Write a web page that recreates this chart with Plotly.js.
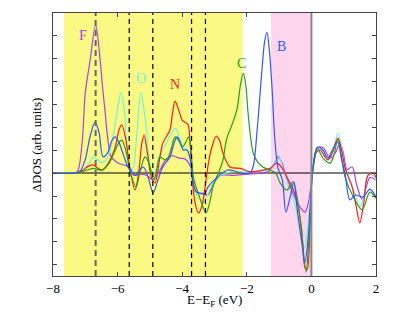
<!DOCTYPE html>
<html><head><meta charset="utf-8">
<script src="https://cdn.plot.ly/plotly-3.0.1.min.js"></script>
<style>html,body{margin:0;padding:0;background:#fff}#chart{width:415px;height:312px}</style>
</head><body><div id="chart"></div>
<script>
// ---- data (E - E_F in eV, ΔDOS arb. units) ----
const xF = [-8,-7.4,-7.25,-7.1,-7.0,-6.85,-6.68,-6.54,-6.45,-6.39,-6.3,-6.2,-6.0,-5.7,-5.6,-5.5,-5.3,-5.1,-4.9,-4.7,-4.5,-4.3,-4.1,-3.9,-3.75,-3.6,-3.4,-3.2,-3.0,-2.8,-2.4,-2.0,-1.6,-1.3,-1.15,-1.03,-0.9,-0.8,-0.66,-0.5,-0.35,-0.2,-0.08,0.03,0.12,0.2,0.36,0.58,0.75,0.89,1.0,1.1,1.26,1.4,1.57,1.7,1.81,2.0];
const yF = [0,0,0.05,1.3,3.5,4.9,6.43,4.9,3.5,2.7,1.43,0.7,0.45,0.3,0.2,-0.1,-0.05,-0.1,-0.3,0.1,0.6,0.75,0.65,0.6,0.3,-0.8,-0.9,-0.95,-0.4,-0.1,-0.1,-0.05,-0.02,0.1,0.4,0.7,0.4,-0.1,-0.6,-1.1,-1.48,-1.7,-1.2,0,0.8,1.1,1.1,0.65,0.9,1.3,0.8,0.15,0.26,-0.5,-1.15,-0.6,-0.2,-0.3];

const xO = [-8,-7.3,-7.1,-6.9,-6.75,-6.6,-6.48,-6.3,-6.15,-6.0,-5.9,-5.8,-5.7,-5.6,-5.5,-5.4,-5.28,-5.15,-5.05,-4.95,-4.85,-4.7,-4.5,-4.35,-4.22,-4.1,-3.97,-3.85,-3.75,-3.65,-3.5,-3.35,-3.2,-3.0,-2.8,-2.5,-2.1,-1.7,-1.3,-1.15,-1.03,-0.9,-0.75,-0.55,-0.4,-0.23,-0.1,0.03,0.12,0.2,0.35,0.5,0.65,0.82,0.95,1.04,1.2,1.35,1.5,1.65,1.75,1.9,2.0];
const yO = [0,0,0.1,0.4,0.7,0.55,0.43,0.7,1.5,2.8,3.5,2.8,1.0,-0.05,0.3,1.8,3.5,2.4,0.9,0.1,0.0,0.8,1.3,1.7,1.95,1.6,1.1,1.0,0.5,-0.7,-1.0,-1.3,-0.9,-0.3,-0.1,0.05,0.05,0.05,0.15,0.45,0.78,0.3,-0.4,-1.2,-2.0,-3.3,-2.2,0,0.9,1.1,1.0,0.7,0.9,1.74,1.0,0.26,-0.3,-0.9,-1.48,-0.8,-0.1,-0.1,-0.3];

const xN = [-8,-7.3,-7.1,-6.9,-6.76,-6.6,-6.48,-6.3,-6.1,-5.95,-5.87,-5.75,-5.62,-5.46,-5.35,-5.25,-5.18,-5.08,-4.95,-4.84,-4.7,-4.6,-4.38,-4.3,-4.22,-4.1,-4.0,-3.91,-3.82,-3.75,-3.7,-3.6,-3.5,-3.4,-3.29,-3.18,-3.08,-2.95,-2.84,-2.74,-2.52,-2.2,-1.9,-1.6,-1.28,-1.07,-0.9,-0.76,-0.6,-0.45,-0.3,-0.2,-0.13,-0.05,0.03,0.14,0.27,0.4,0.51,0.65,0.82,0.93,1.04,1.15,1.26,1.38,1.5,1.62,1.75,1.91,2.0];
const yN = [0,0,0.1,0.3,0.35,0.2,0.13,0.4,1.0,1.9,2.1,1.5,0.2,-0.74,0.0,1.3,1.65,0.9,-0.2,-0.43,0.6,1.3,1.87,2.6,3.13,2.7,2.3,2.2,2.1,1.2,0,-1.3,-1.74,-1.5,-0.6,0.5,1.13,1.6,1.4,0.87,0.26,0.2,0.05,0.1,0.2,0.43,0.2,-0.17,-0.6,-1.17,-2.5,-4.1,-4.2,-2.5,0,0.87,1.0,0.75,0.57,0.9,1.52,1.0,0.26,-0.2,-0.6,-1.4,-2.17,-1.3,-0.1,0,-0.2];

const xC = [-8,-7.3,-7.1,-6.9,-6.76,-6.6,-6.48,-6.3,-6.1,-5.95,-5.87,-5.75,-5.6,-5.43,-5.3,-5.15,-5.05,-4.95,-4.88,-4.78,-4.69,-4.57,-4.47,-4.35,-4.22,-4.1,-4.0,-3.9,-3.8,-3.73,-3.65,-3.5,-3.35,-3.26,-3.15,-3.05,-2.93,-2.75,-2.62,-2.43,-2.3,-2.2,-2.11,-2.03,-1.95,-1.8,-1.65,-1.5,-1.25,-1.1,-0.97,-0.76,-0.57,-0.45,-0.3,-0.17,-0.08,0.03,0.1,0.17,0.36,0.58,0.7,0.82,0.93,1.04,1.3,1.57,1.81,2.0];
const yC = [0,0,0.05,0.15,0.2,0.15,0.13,0.35,0.9,1.35,1.43,1.0,0.0,-0.6,0.1,0.7,0.5,0.0,-0.3,0.2,0.7,0.6,0.57,1.0,1.57,1.4,1.13,1.3,1.57,1.0,-0.2,-0.9,-1.5,-1.74,-1.3,-0.6,-0.17,0.5,1.5,2.2,2.8,3.8,4.33,3.8,2.45,0.87,0.45,0.26,0.1,0.0,-0.43,-0.74,-0.39,-1.0,-2.6,-4.3,-3.0,0,0.6,1.1,0.65,0.43,0.8,1.48,0.7,-0.17,-1.04,-1.6,-0.83,-1.1];

const xB = [-8,-7.3,-7.15,-7.0,-6.85,-6.7,-6.58,-6.45,-6.3,-6.18,-6.08,-5.95,-5.8,-5.68,-5.55,-5.45,-5.3,-5.2,-5.05,-4.9,-4.75,-4.6,-4.38,-4.25,-4.16,-4.05,-3.97,-3.85,-3.75,-3.65,-3.55,-3.3,-3.2,-2.93,-2.6,-2.4,-2.2,-1.9,-1.8,-1.68,-1.53,-1.45,-1.375,-1.3,-1.22,-1.13,-1.03,-0.9,-0.79,-0.65,-0.54,-0.45,-0.3,-0.2,-0.1,0.03,0.12,0.2,0.35,0.51,0.65,0.82,0.93,1.04,1.19,1.35,1.6,1.81,2.0];
const yB = [0,0,0.1,0.6,1.6,2.2,1.8,0.7,0.9,1.4,1.57,1.3,0.7,0.26,0.0,-0.1,0.15,0.26,-0.2,-0.87,-0.3,0.26,0.7,1.3,1.57,1.3,1.0,1.0,0.6,-0.5,-0.83,-0.87,-0.6,-0.2,0.13,0.1,0.0,0.0,0.3,1.87,4.5,5.7,6.13,5.3,3.74,1.43,0.2,-0.3,-1.7,-1.0,-0.39,-1.48,-3.0,-3.9,-2.8,0,0.9,1.13,1.0,0.65,1.0,1.35,0.6,0,-1.17,-0.96,-1.04,-0.7,-1.04];

const labels = ['F','O','N','C','B'];
const labelX = [-7.06,-5.28,-4.22,-2.16,-0.94];
const labelY = [6.0,4.13,3.83,4.77,5.49];
const colors = ['#b13cf0','#6ff5e0','#ff1a1a','#2aa010','#3355ff'];
const xs = [xF,xO,xN,xC,xB];
const ys = [yF,yO,yN,yC,yB];

const yellowBand = [-7.66,-2.13];
const pinkBand = [-1.25,0];
const dashPos = [-6.68,-5.64,-4.91,-3.71,-3.28];
const xTicks = [-8,-6,-4,-2,0,2];

const font = 'Liberation Serif, Times New Roman, serif';
const traces = xs.map((x,i)=>({x:x,y:ys[i],type:'scatter',mode:'lines',
  line:{color:colors[i],width:1.2,shape:'spline',smoothing:0.9},hoverinfo:'skip'}));

const shapes = [
  {type:'rect',xref:'x',yref:'paper',x0:yellowBand[0],x1:yellowBand[1],y0:0,y1:1,fillcolor:'#f9f983',line:{width:0},layer:'below'},
  {type:'rect',xref:'x',yref:'paper',x0:pinkBand[0],x1:pinkBand[1],y0:0,y1:1,fillcolor:'#fdd6ee',line:{width:0},layer:'below'},
  {type:'line',xref:'paper',yref:'y',x0:0,x1:1,y0:0,y1:0,line:{color:'#000',width:1.2},layer:'below'},
  {type:'line',xref:'x',yref:'paper',x0:0,x1:0,y0:0,y1:1,line:{color:'#888',width:2},layer:'above'}
];
dashPos.forEach((d,i)=>shapes.push({type:'line',xref:'x',yref:'paper',x0:d,x1:d,y0:0,y1:1,
  line:{color:i===0?'#666':'#000',width:i===0?2:1.2,dash:i===0?'6px,4px':'5px,4px'},layer:'above'}));

const annotations = labels.map((t,i)=>({x:labelX[i],y:labelY[i],text:t,showarrow:false,
  font:{family:font,size:14,color:colors[i]},xanchor:'center',yanchor:'middle'}));
annotations.push({xref:'paper',yref:'paper',x:-0.05,y:0.5,text:'ΔDOS (arb. units)',textangle:-90,showarrow:false,
  font:{family:font,size:13,color:'#000'},xanchor:'center',yanchor:'middle'});
annotations.push({xref:'paper',yref:'paper',x:0.5,y:-0.055,text:'E−E<sub>F</sub> (eV)',showarrow:false,
  font:{family:font,size:13,color:'#000'},xanchor:'center',yanchor:'top'});

const layout = {
  width:415,height:312,margin:{l:53,r:39,t:13,b:36},
  paper_bgcolor:'#fff',plot_bgcolor:'#fff',showlegend:false,
  xaxis:{range:[-8,2],tickvals:xTicks,ticktext:xTicks.map(v=>v<0?'−'+Math.abs(v):String(v)),
    ticks:'inside',ticklen:4,tickcolor:'#444',showline:true,linecolor:'#444',linewidth:1.3,mirror:'ticks',
    showgrid:false,zeroline:false,tickfont:{family:font,size:13,color:'#000'}},
  yaxis:{range:[-4.48,6.96],dtick:1,tick0:0,ticks:'inside',ticklen:4,tickcolor:'#444',showticklabels:false,
    showline:true,linecolor:'#444',linewidth:1.3,mirror:'ticks',showgrid:false,zeroline:false},
  shapes:shapes,annotations:annotations
};
Plotly.newPlot('chart',traces,layout,{displayModeBar:false,staticPlot:true});
</script></body></html>
